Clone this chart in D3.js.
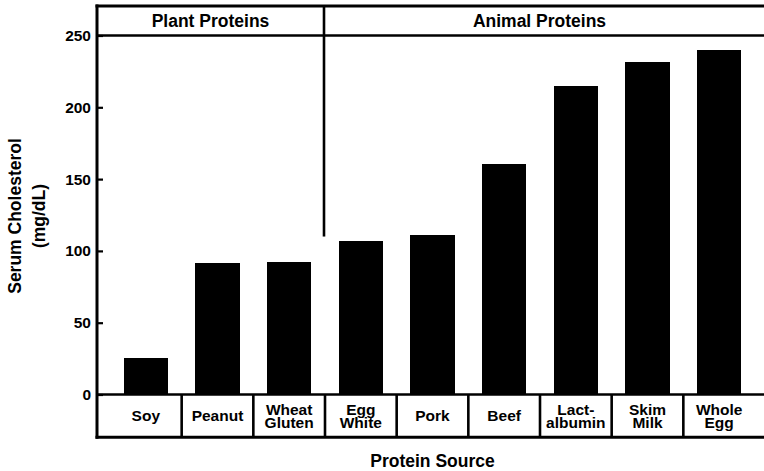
<!DOCTYPE html>
<html>
<head>
<meta charset="utf-8">
<script src="https://cdn.jsdelivr.net/npm/d3@7"></script>
<style>
  html, body { margin: 0; padding: 0; background: #fff; }
  svg { display: block; }
  text { font-family: "Liberation Sans", Arial, Helvetica, sans-serif; font-weight: bold; fill: #000; }
</style>
</head>
<body>
<svg id="chart" width="764" height="471"></svg>
<script>
// Protein sources (two-line labels split on "|") and mean serum cholesterol, mg/dL
const categories = ["Soy", "Peanut", "Wheat|Gluten", "Egg|White", "Pork", "Beef", "Lact-|albumin", "Skim|Milk", "Whole|Egg"];
const cholesterol = [25.5, 91.5, 92.5, 107, 111, 160.5, 215, 231.5, 240];
const groups = ["Plant Proteins", "Animal Proteins"];
const groupSizes = [3, 6];
const yTicks = [0, 50, 100, 150, 200, 250];
const dividerValue = 110;

const svg = d3.select("#chart");
const W = 764;
const frameX = 97, topY = 6, boxBottom = 437.3;

const x = d3.scaleBand()
  .domain(categories)
  .range([110, 755])
  .paddingInner(0.38)
  .paddingOuter(0.19);

const y = d3.scaleLinear().domain([0, 250]).range([394.5, 35.5]);

const step = x.step();
const cellStart = d => x(d) - step * x.paddingInner() / 2;

// bars
svg.append("g")
  .selectAll("rect")
  .data(categories)
  .join("rect")
  .attr("x", d => x(d))
  .attr("width", x.bandwidth())
  .attr("y", (d, i) => y(cholesterol[i]))
  .attr("height", (d, i) => y(0) - y(cholesterol[i]))
  .attr("fill", "#000")
  .attr("shape-rendering", "crispEdges");

// y axis with inward ticks
const yAxis = d3.axisLeft(y)
  .tickValues(yTicks)
  .tickSizeInner(-6)
  .tickSizeOuter(0)
  .tickPadding(6)
  .tickFormat(d3.format("d"));

const gy = svg.append("g").attr("transform", `translate(${frameX},0)`).call(yAxis);
gy.select(".domain").remove();
gy.selectAll(".tick line").attr("stroke", "#000").attr("stroke-width", 2.2);
gy.selectAll(".tick text")
  .style("font-size", "15.5px")
  .style("font-family", "'Liberation Sans', Arial, sans-serif")
  .style("font-weight", "bold");

// frame lines
const lines = svg.append("g").attr("stroke", "#000").attr("fill", "none");
lines.append("line").attr("x1", frameX - 1.5).attr("x2", W).attr("y1", topY).attr("y2", topY).attr("stroke-width", 3);
lines.append("line").attr("x1", frameX).attr("x2", W).attr("y1", y(250)).attr("y2", y(250)).attr("stroke-width", 2.6);
lines.append("line").attr("x1", frameX).attr("x2", W).attr("y1", y(0)).attr("y2", y(0)).attr("stroke-width", 2.7);
lines.append("line").attr("x1", frameX - 1.5).attr("x2", W).attr("y1", boxBottom).attr("y2", boxBottom).attr("stroke-width", 3);
lines.append("line").attr("x1", frameX).attr("x2", frameX).attr("y1", topY - 1.5).attr("y2", boxBottom + 1.5).attr("stroke-width", 3);

// category cell dividers
lines.selectAll(".cell")
  .data(categories.slice(1))
  .join("line")
  .attr("class", "cell")
  .attr("x1", d => cellStart(d))
  .attr("x2", d => cellStart(d))
  .attr("y1", y(0))
  .attr("y2", boxBottom)
  .attr("stroke-width", 2.6);

// plant / animal divider
const splitX = cellStart(categories[groupSizes[0]]) - 1;
lines.append("line")
  .attr("x1", splitX).attr("x2", splitX)
  .attr("y1", topY).attr("y2", y(dividerValue))
  .attr("stroke-width", 2.6);

// group headers
const headerY = (topY + y(250)) / 2 + 6.3;
const groupSpans = [[frameX, splitX], [splitX, x.range()[1]]];
svg.append("g")
  .selectAll("text")
  .data(groups)
  .join("text")
  .attr("x", (d, i) => (groupSpans[i][0] + groupSpans[i][1]) / 2)
  .attr("y", headerY)
  .attr("text-anchor", "middle")
  .style("font-size", "17.5px")
  .text(d => d);

// category labels inside the cells
const labelMid = (y(0) + boxBottom) / 2;
const lineGap = 13.5;
const capH = 15.5 * 0.716;
const labels = svg.append("g")
  .selectAll("text")
  .data(categories)
  .join("text")
  .attr("text-anchor", "middle")
  .style("font-size", "15.5px");
labels.each(function (d) {
  const parts = d.split("|");
  const t = d3.select(this);
  const cx = x(d) + x.bandwidth() / 2;
  const blockH = capH + lineGap * (parts.length - 1);
  const firstBase = labelMid - blockH / 2 + capH;
  parts.forEach((p, j) => {
    t.append("tspan").attr("x", cx).attr("y", firstBase + j * lineGap).text(p);
  });
});

// axis titles
svg.append("text")
  .attr("x", (x.range()[0] + x.range()[1]) / 2)
  .attr("y", 467)
  .attr("text-anchor", "middle")
  .style("font-size", "17.5px")
  .text("Protein Source");

const yTitle = svg.append("text")
  .attr("transform", "translate(0,216) rotate(-90)")
  .attr("text-anchor", "middle")
  .style("font-size", "17.5px");
yTitle.append("tspan").attr("x", 0).attr("y", 21).text("Serum Cholesterol");
yTitle.append("tspan").attr("x", 0).attr("y", 44.5).text("(mg/dL)");
</script>
</body>
</html>
